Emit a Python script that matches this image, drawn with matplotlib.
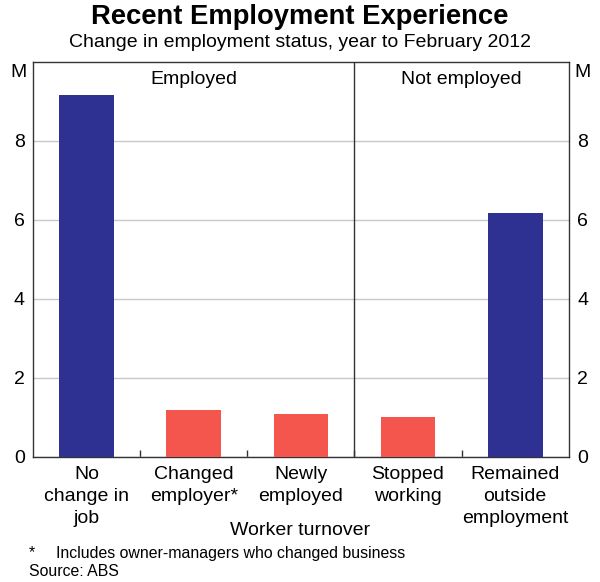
import numpy as np
from matplotlib import pyplot as plt

plt.rcParams['font.family'] = ['Liberation Sans', 'DejaVu Sans']

categories = ["No\nchange in\njob", "Changed\nemployer*", "Newly\nemployed",
              "Stopped\nworking", "Remained\noutside\nemployment"]
values = [9.17, 1.18, 1.1, 1.0, 6.18]
is_turnover = [False, True, True, True, False]
groups = ["Employed", "Not employed"]
yticks = [0, 2, 4, 6, 8]

navy = "#2e3192"
red = "#f4564e"
fs = 14

fig = plt.figure(figsize=(6, 5.82), dpi=100)
ax = fig.add_axes([0.055, 0.2148, 0.893, 0.6787])

x = np.arange(len(categories))
colors = [red if t else navy for t in is_turnover]
ax.bar(x, values, width=0.51, color=colors, zorder=3)

ax.set_xlim(-0.5, len(categories) - 0.5)
ax.set_ylim(0, 10)
ax.set_yticks(yticks)
ax.yaxis.grid(True, color="#c8c8c8", lw=1, zorder=0)
ax.tick_params(axis="y", length=0, labelsize=fs, pad=6,
               right=True, labelright=True)

# category boundaries as small inward ticks on the x axis
ax.set_xticks(x[:-1] + 0.5)
ax.set_xticklabels([])
ax.tick_params(axis="x", direction="in", length=5, width=1, color="#333333")
for i, lab in enumerate(categories):
    ax.text(i, -0.23, lab, ha="center", va="top", fontsize=fs,
            linespacing=1.38)

# split between employed and not employed
ax.axvline(2.5, color="#333333", lw=1, zorder=4)
ax.text(1.0, 9.77, groups[0], ha="center", va="top", fontsize=fs)
ax.text(3.5, 9.77, groups[1], ha="center", va="top", fontsize=fs)

for s in ax.spines.values():
    s.set_color("#333333")
    s.set_linewidth(1)

fig.text(0.03, 0.876, "M", fontsize=fs, ha="center", va="center")
fig.text(0.971, 0.876, "M", fontsize=fs, ha="center", va="center")

fig.text(0.5, 0.971, "Recent Employment Experience", ha="center", va="center",
         fontsize=19.7, fontweight="bold")
fig.text(0.5, 0.927, "Change in employment status, year to February 2012",
         ha="center", va="center", fontsize=fs)
fig.text(0.5, 0.0893, "Worker turnover", ha="center", va="center", fontsize=fs)
fig.text(0.048, 0.0498, "*", va="center", fontsize=11.4)
fig.text(0.093, 0.0498, "Includes owner-managers who changed business",
         va="center", fontsize=11.4)
fig.text(0.048, 0.0172, "Source: ABS", va="center", fontsize=11.4)

fig.savefig("out.png", dpi=100)
